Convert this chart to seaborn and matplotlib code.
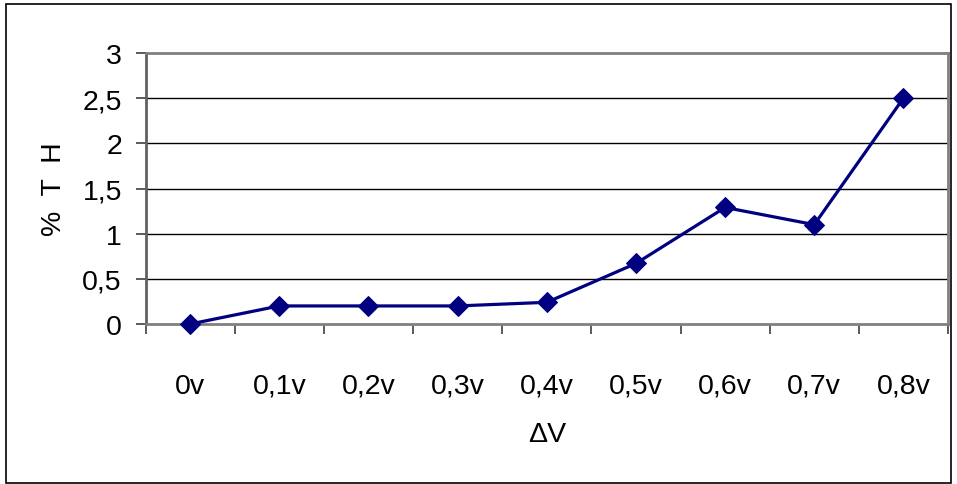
import matplotlib
matplotlib.use("Agg")
import matplotlib.pyplot as plt
import seaborn as sns
import pandas as pd
from matplotlib.patches import Rectangle

categories = ["0v", "0,1v", "0,2v", "0,3v", "0,4v", "0,5v", "0,6v", "0,7v", "0,8v"]
values = [0.0, 0.2, 0.2, 0.2, 0.24, 0.67, 1.29, 1.1, 2.5]
y_ticks = [0, 0.5, 1, 1.5, 2, 2.5, 3]
y_tick_labels = ["0", "0,5", "1", "1,5", "2", "2,5", "3"]

sns.set_theme(style="white")
plt.rcParams['font.family'] = ['Liberation Sans', 'DejaVu Sans']
plt.rcParams['text.color'] = 'black'
plt.rcParams['axes.labelcolor'] = 'black'
plt.rcParams['xtick.labelcolor'] = 'black'
plt.rcParams['ytick.labelcolor'] = 'black'

df = pd.DataFrame({"cat": categories, "val": values, "pos": range(len(categories))})

fig = plt.figure(figsize=(9.57, 4.85), dpi=100)
ax = fig.add_axes([145.5 / 957, 1 - 325 / 485, (948 - 145.5) / 957, (325 - 54) / 485])

sns.lineplot(data=df, x="pos", y="val", ax=ax, color="#000080", linewidth=2.3,
             marker="D", markersize=10.5, markeredgecolor="#000080", zorder=5,
             clip_on=False)

FS = 20.5
ax.set_xlim(-0.5, len(categories) - 0.5)
ax.set_ylim(0, 3)
ax.set_yticks(y_ticks)
ax.set_yticklabels(y_tick_labels, fontsize=FS, color='black')
ax.set_xticks(range(len(categories)))
ax.set_xticklabels(categories, fontsize=FS, color='black')
ax.set_xticks([i - 0.5 for i in range(len(categories) + 1)], minor=True)
ax.tick_params(axis='x', which='major', length=0, pad=35)
ax.tick_params(axis='x', which='minor', length=7, width=1.2, color='#404040', bottom=True)
ax.tick_params(axis='y', which='major', length=7, width=1.2, color='#404040', pad=10, left=True)

for y in y_ticks[1:-1]:
    ax.axhline(y, color='black', linewidth=1.0, zorder=1)

for side in ['top', 'right', 'left', 'bottom']:
    ax.spines[side].set_visible(True)
    ax.spines[side].set_color('#808080')
    ax.spines[side].set_linewidth(2.0)
ax.spines['left'].set_color('#606060')

ax.set_xlabel("ΔV", fontsize=FS, labelpad=16, color='black')
ax.set_ylabel("%  T  H", fontsize=FS, labelpad=11, color='black')

fig.patches.append(Rectangle((6 / 957, 1 - 484 / 485), 945 / 957, 479 / 485,
                             transform=fig.transFigure, fill=False,
                             edgecolor='black', linewidth=1.2))

fig.savefig("out.png", dpi=100)
